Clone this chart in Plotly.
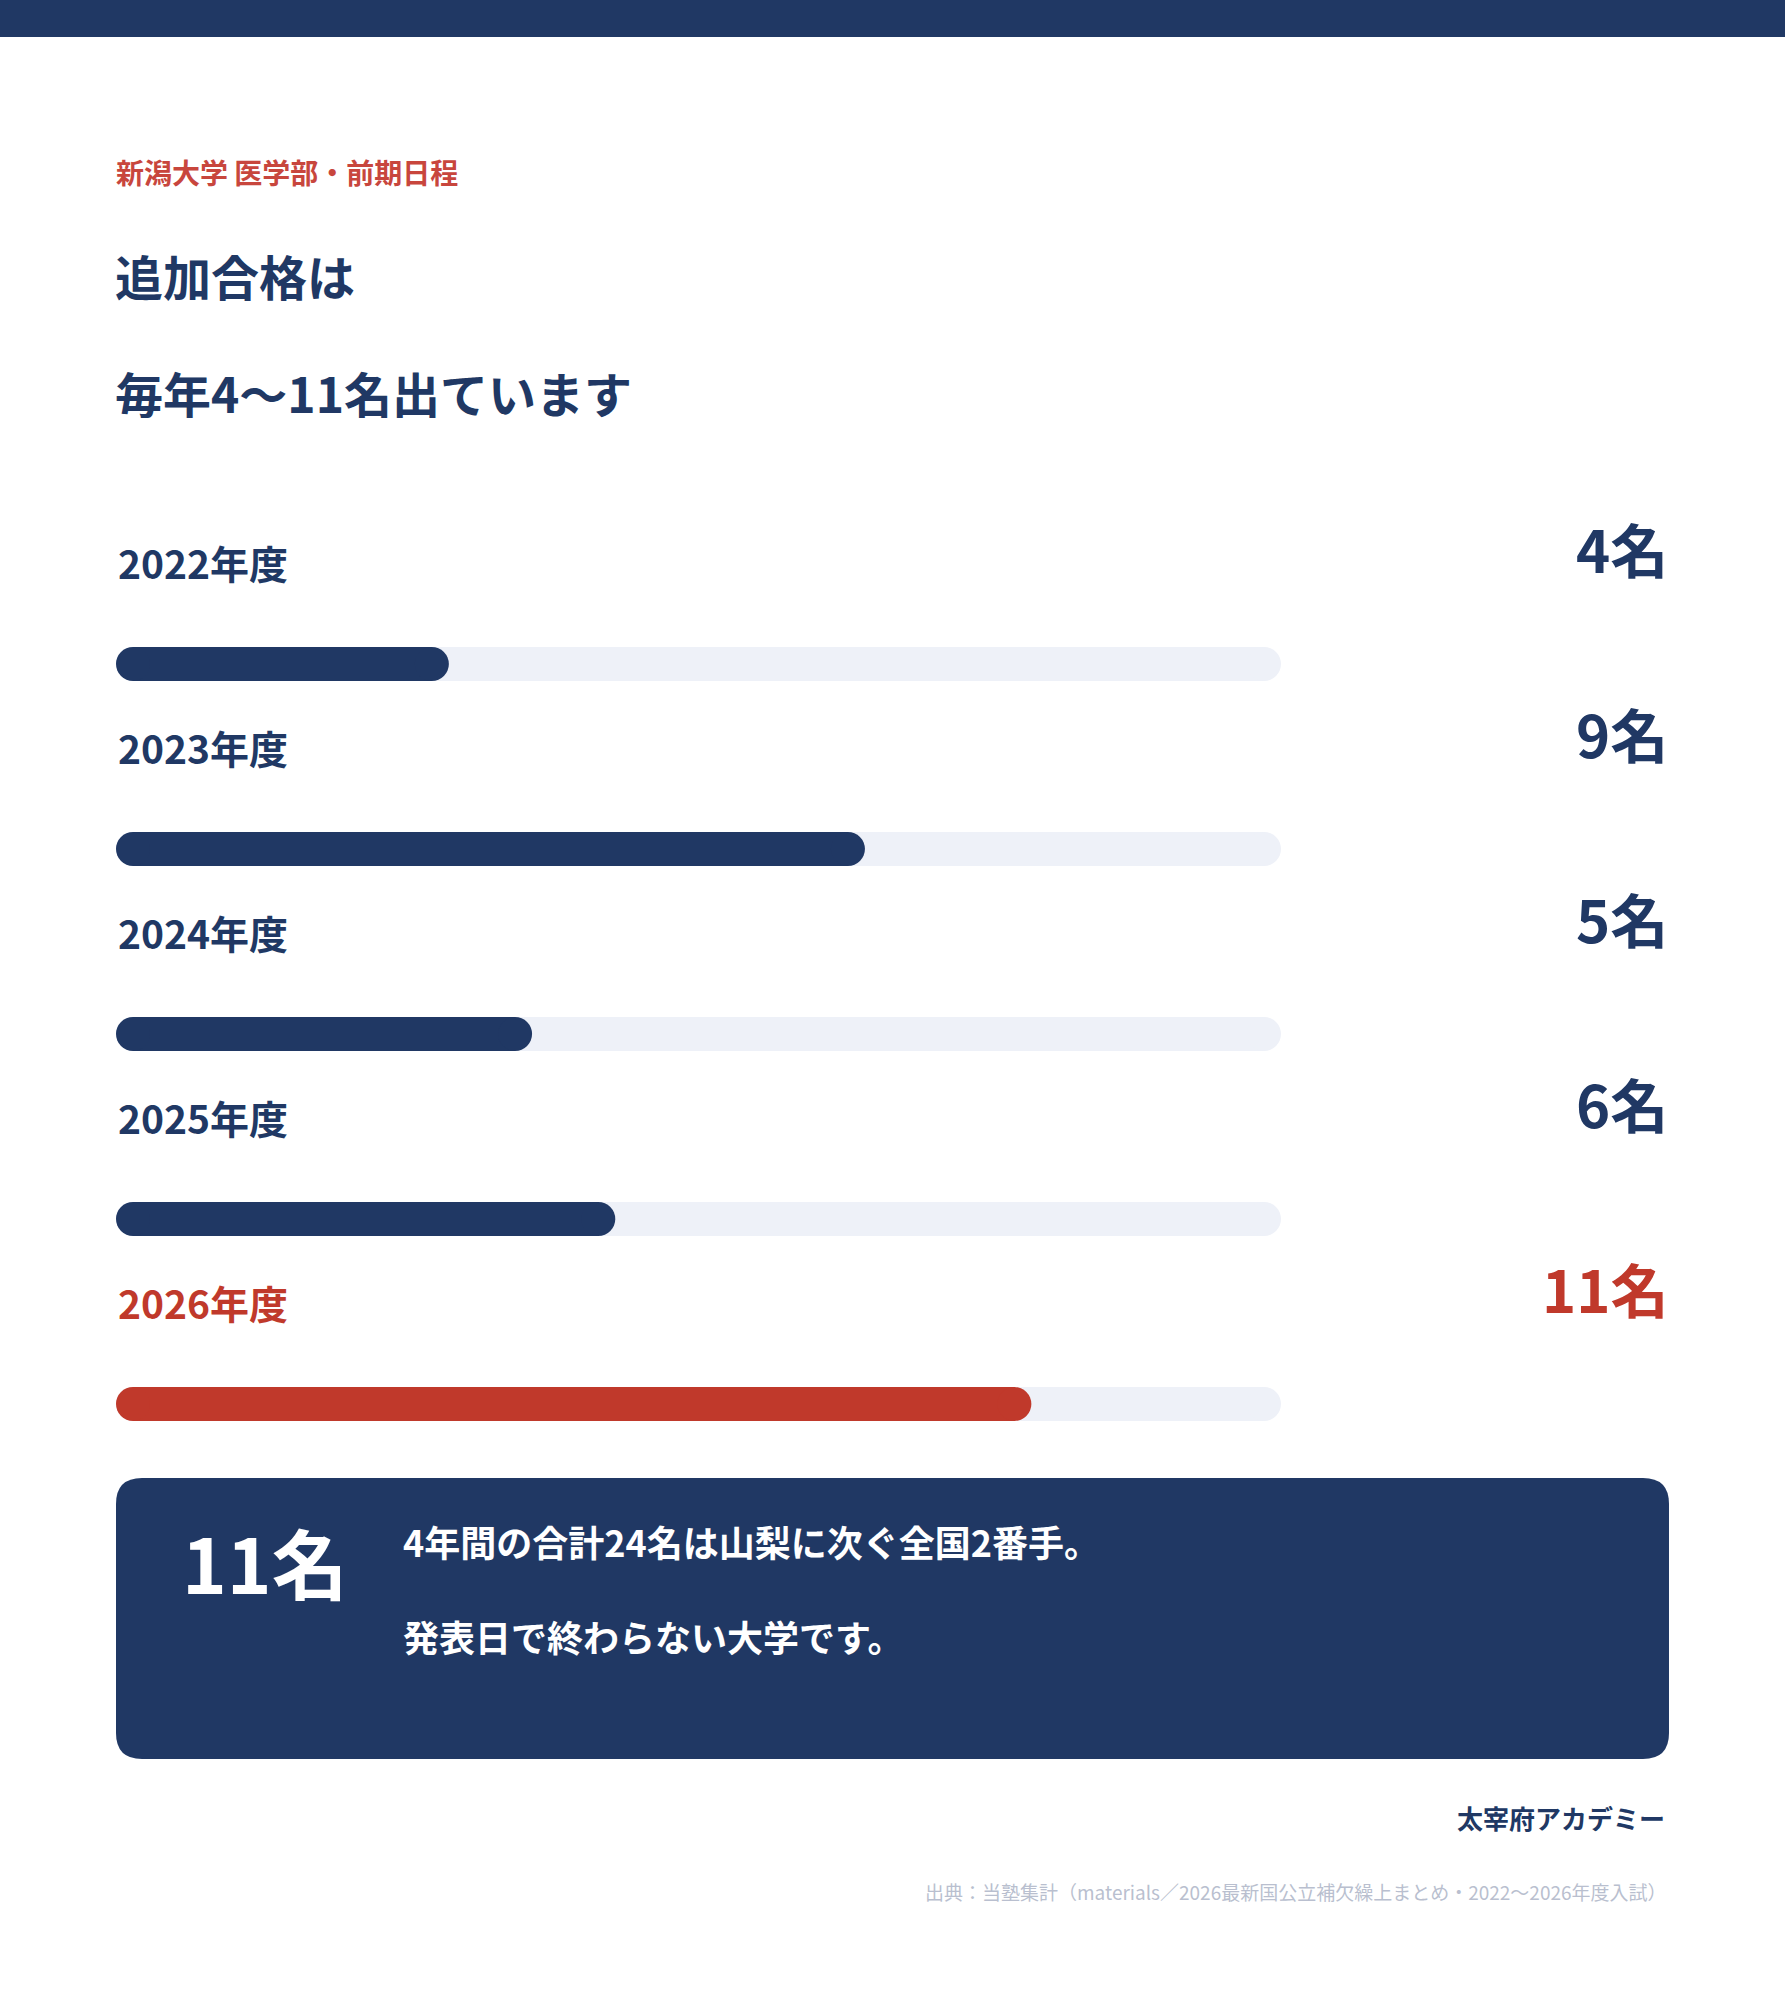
import plotly.graph_objects as go

# data
years = ["2022年度", "2023年度", "2024年度", "2025年度", "2026年度"]
counts = [4, 9, 5, 6, 11]
value_labels = ["4名", "9名", "5名", "6名", "11名"]
scale_max = 14
highlight = "2026年度"

subtitle = "新潟大学 医学部・前期日程"
title_lines = ["追加合格は", "毎年4〜11名出ています"]
box_big = "11名"
box_lines = ["4年間の合計24名は山梨に次ぐ全国2番手。", "発表日で終わらない大学です。"]
brand = "太宰府アカデミー"
source = "出典：当塾集計（materials／2026最新国公立補欠繰上まとめ・2022〜2026年度入試）"

W, H = 1785, 2000
NAVY = "#203864"
RED = "#c0392b"
TRACK = "#eef1f8"
FONT = "Noto Sans CJK JP"

bar_left, bar_right = 116, 1281
bar_thick = 34
row_h = 185
first_bar_y = 664
# half the cap in data units so the rounded ends stay inside the value width
cap = (bar_thick / 2) * scale_max / (bar_right - bar_left)


def px(x):
    return x / W


def py(y):
    return 1 - y / H


fig = go.Figure()

for yr, v in zip(years, counts):
    col = RED if yr == highlight else NAVY
    for x0, x1, c in [(0, scale_max, TRACK), (0, v, col)]:
        fig.add_trace(go.Scatter(
            x=[x0 + cap, x1 - cap], y=[yr, yr],
            mode="lines+markers",
            line=dict(color=c, width=bar_thick),
            marker=dict(color=c, size=bar_thick, line=dict(width=0)),
            hoverinfo="skip", showlegend=False, cliponaxis=False,
        ))

top = first_bar_y - row_h / 2
bottom = top + row_h * len(years)

annotations = []
for yr, lab in zip(years, value_labels):
    col = RED if yr == highlight else NAVY
    annotations.append(dict(
        x=px(bar_left), xref="paper", xanchor="left",
        y=yr, yref="y", yanchor="middle", yshift=102,
        text=yr, showarrow=False,
        font=dict(family=FONT, size=39, color=col, weight="bold"),
    ))
    annotations.append(dict(
        x=px(1670), xref="paper", xanchor="right",
        y=yr, yref="y", yanchor="middle", yshift=116,
        text=lab, showarrow=False,
        font=dict(family=FONT, size=58, color=col, weight="bold"),
    ))


def txt(x, y, text, size, color, anchor="left", weight="bold"):
    annotations.append(dict(
        x=px(x), y=py(y), xref="paper", yref="paper",
        xanchor=anchor, yanchor="middle",
        text=text, showarrow=False,
        font=dict(family=FONT, size=size, color=color, weight=weight),
    ))


txt(114, 172, subtitle, 28, "#c8463d")
txt(113, 275, title_lines[0], 48, NAVY)
txt(113, 392, title_lines[1], 48, NAVY)
txt(180, 1561, box_big, 76, "white")
txt(401, 1541, box_lines[0], 36, "white")
txt(401, 1636, box_lines[1], 36, "white")
txt(1667, 1817, brand, 26, NAVY, anchor="right")
txt(1669, 1891, source, 19, "#b9bfcf", anchor="right", weight="normal")

# rounded panel (paper coords, quadratic corners)
x0, x1, y0, y1, r = 116, 1669, 1478, 1759, 26
pts = [
    ("M", x0 + r, y0), ("L", x1 - r, y0), ("Q", x1, y0, x1, y0 + r),
    ("L", x1, y1 - r), ("Q", x1, y1, x1 - r, y1), ("L", x0 + r, y1),
    ("Q", x0, y1, x0, y1 - r), ("L", x0, y0 + r), ("Q", x0, y0, x0 + r, y0),
]
panel = ""
for p in pts:
    cmd, coords = p[0], p[1:]
    pairs = [f"{px(coords[i]):.5f},{py(coords[i + 1]):.5f}" for i in range(0, len(coords), 2)]
    panel += cmd + " ".join(pairs) + " "
panel += "Z"

shapes = [
    dict(type="rect", xref="paper", yref="paper", x0=0, x1=1, y0=py(37), y1=1,
         fillcolor=NAVY, line=dict(width=0), layer="below"),
    dict(type="path", xref="paper", yref="paper", path=panel,
         fillcolor=NAVY, line=dict(width=0), layer="below"),
]

fig.update_layout(
    width=W, height=H,
    margin=dict(l=0, r=0, t=0, b=0),
    paper_bgcolor="white", plot_bgcolor="rgba(0,0,0,0)",
    xaxis=dict(domain=[px(bar_left), px(bar_right)], range=[0, scale_max],
               visible=False, fixedrange=True),
    yaxis=dict(domain=[py(bottom), py(top)], type="category",
               categoryorder="array", categoryarray=years,
               range=[len(years) - 0.5, -0.5], visible=False, fixedrange=True),
    annotations=annotations,
    shapes=shapes,
    showlegend=False,
)

fig.write_html(
    "out.html",
    config={"displayModeBar": False},
    post_script="document.body.style.margin='0';document.body.style.overflow='hidden';",
)
